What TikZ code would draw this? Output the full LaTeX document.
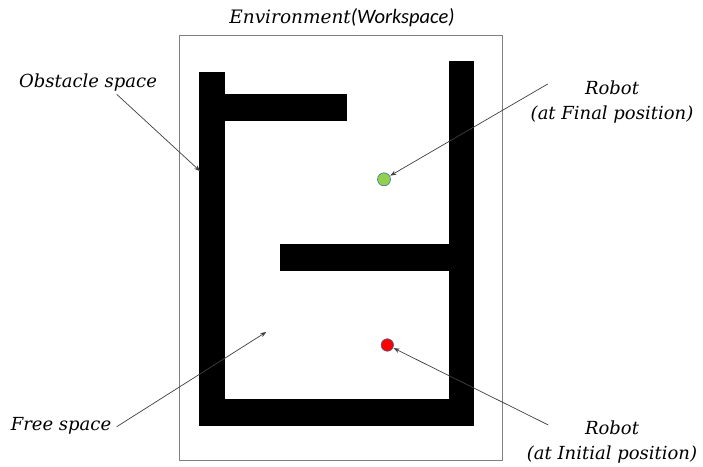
\documentclass[tikz,border=0pt]{standalone}
\usepackage{fontspec}
\setmainfont{DejaVu Serif}
\newfontfamily\wsfont{Carlito}
\usetikzlibrary{arrows.meta}
\definecolor{envgray}{RGB}{128,128,128}
\definecolor{arrgray}{RGB}{64,64,64}
\definecolor{goalgreen}{RGB}{146,208,80}
\definecolor{startred}{RGB}{255,0,0}
\definecolor{rimblue}{RGB}{65,113,156}
\tikzset{
  envline/.style={draw=envgray, line width=1pt},
  obst/.style={fill=black},
  lbl/.style={font=\fontsize{18}{24.5}\selectfont\itshape, inner sep=0pt, align=center},
  pointer/.style={draw=arrgray, line width=0.7pt, -{Stealth[length=6pt,width=4.5pt]}, shorten >=0.5pt},
  robot/.style={circle, draw=rimblue, line width=0.6pt, inner sep=0pt, minimum size=13pt}
}
\begin{document}
\begin{tikzpicture}[x=1pt,y=-1pt]
\useasboundingbox (0,0) rectangle (703,466);
\fill[white] (0,0) rectangle (703,466);
% workspace
\draw[envline] (179.5,35) rectangle (502.5,460.5);
% obstacles
\fill[obst] (199.3,72.3) rectangle (225,425.7);
\fill[obst] (225,94.3) rectangle (346.7,120.7);
\fill[obst] (449.3,61) rectangle (474.3,425.7);
\fill[obst] (280,244.3) rectangle (449.3,270.7);
\fill[obst] (199.3,399.3) rectangle (474.3,425.7);
% robots
\node[robot, fill=goalgreen] (goal) at (384,179.3) {};
\node[robot, fill=startred, minimum size=12.5pt] (start) at (387.3,345) {};
% labels
\node[lbl, font=\fontsize{18.5}{22}\selectfont\itshape] (envT) at (342,18) {Environment{\wsfont\fontsize{20.5}{22}\selectfont(Workspace)}};
\node[lbl] (obsT) at (88,82.5) {Obstacle space};
\node[lbl] (freeT) at (61,425.5) {Free space};
\node[lbl] (finT) at (612,102) {Robot\\(at Final position)};
\node[lbl] (iniT) at (612,442) {Robot\\(at Initial position)};
% connector ends
\coordinate (obsA) at (116.7,94.3);
\coordinate (obsB) at (200.5,171.5);
\coordinate (freeA) at (116.7,426.7);
\coordinate (freeB) at (266.7,331.7);
\coordinate (finA) at (547.7,84);
\coordinate (iniA) at (548.3,425);
% connectors
\draw[pointer] (obsA) -- (obsB);
\draw[pointer] (freeA) -- (freeB);
\draw[pointer] (finA) -- (goal);
\draw[pointer] (iniA) -- (start);
\end{tikzpicture}
\end{document}
